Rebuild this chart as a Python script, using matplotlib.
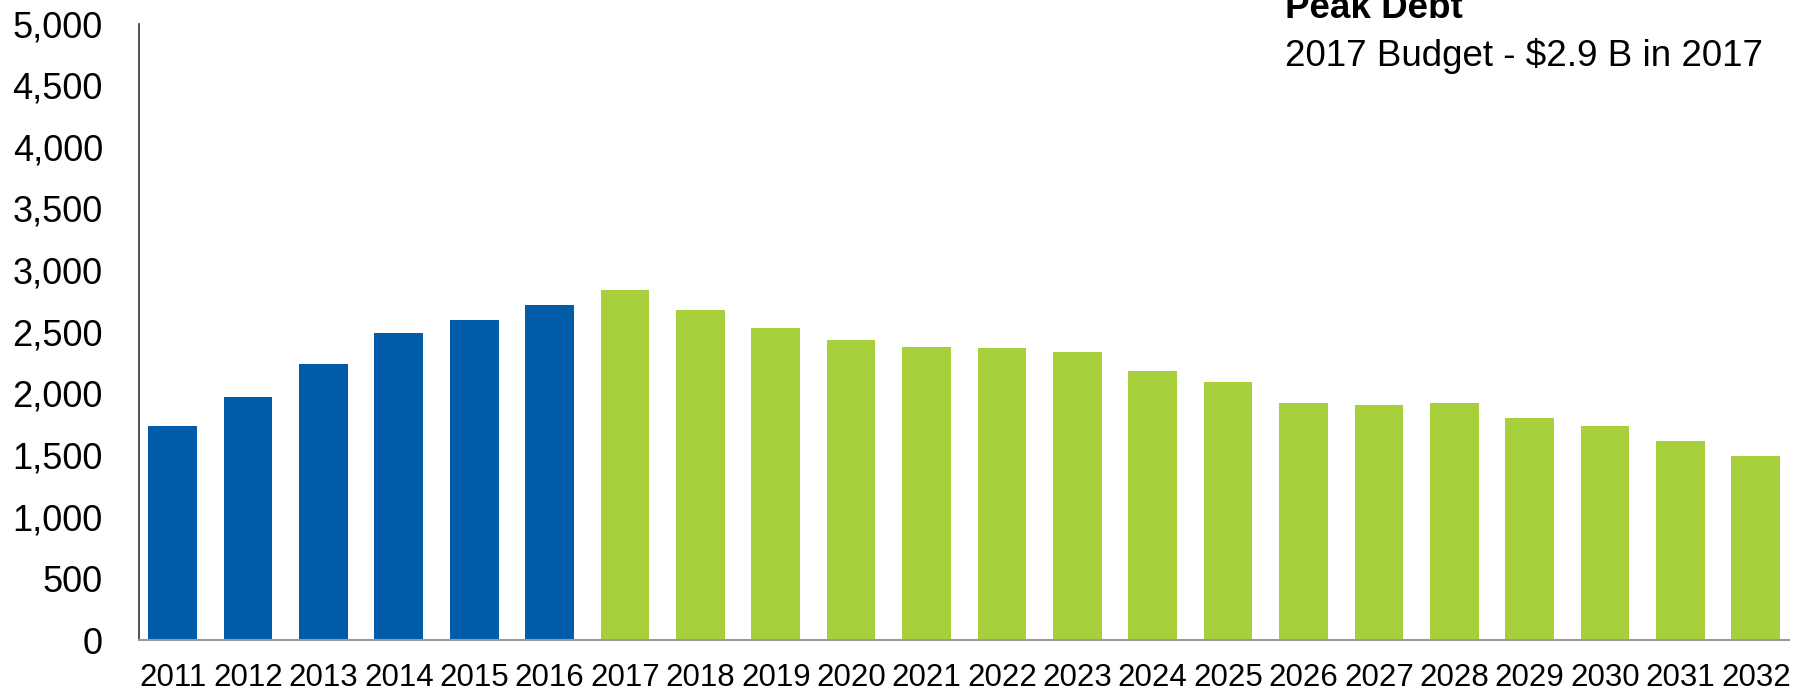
import numpy as np
import matplotlib.pyplot as plt
from matplotlib.ticker import FuncFormatter

plt.rcParams['font.family'] = ['Liberation Sans', 'DejaVu Sans']

years = [str(y) for y in range(2011, 2033)]
actual = [1738, 1973, 2236, 2487, 2593, 2717]
forecast = [2836, 2676, 2528, 2436, 2379, 2371, 2338, 2182, 2090,
            1920, 1908, 1920, 1798, 1733, 1612, 1492]
blue = '#005BA8'
green = '#A8CF3C'

debt = actual + forecast
colors = [blue] * len(actual) + [green] * len(forecast)

fig = plt.figure(figsize=(18, 6.94), dpi=100)
ax = fig.add_axes([139/1800, 1 - 640/694, 1650/1800, (640 - 23.5)/694])

x = np.arange(len(years))
ax.bar(x, debt, width=0.646, color=colors, zorder=2)

ax.set_xlim(-0.446, len(years) - 1 + 0.44)
ax.set_ylim(0, 5000)
ax.set_yticks(np.arange(0, 5001, 500))
ax.yaxis.set_major_formatter(FuncFormatter(lambda v, p: f'{int(v):,}'))
ax.set_xticks(x)
ax.set_xticklabels(years)
ax.tick_params(axis='y', length=0, pad=26, labelsize=26)
ax.tick_params(axis='x', length=0, pad=16.5, labelsize=22.5)

for s in ['top', 'right']:
    ax.spines[s].set_visible(False)
ax.spines['left'].set_color('#333333')
ax.spines['left'].set_linewidth(1.2)
ax.spines['bottom'].set_color('#9a9a9a')
ax.spines['bottom'].set_linewidth(1.5)

# heading sits partly above the top edge
fig.text(1285/1800, 1 - 17.5/694, 'Peak Debt', fontsize=26.5,
         fontweight='bold', va='baseline', ha='left')
fig.text(1285/1800, 1 - 66.5/694, '2017 Budget - $2.9 B in 2017',
         fontsize=26.5, va='baseline', ha='left')

plt.savefig('out.png', dpi=100)
